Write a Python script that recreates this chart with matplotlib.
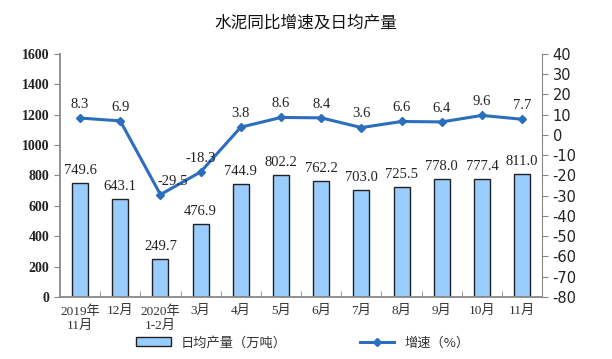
import numpy as np
import matplotlib.pyplot as plt
from matplotlib.lines import Line2D
from matplotlib.patches import Patch

plt.rcParams['font.family'] = ['Liberation Serif', 'Noto Sans CJK SC']
plt.rcParams['axes.unicode_minus'] = False

# data
months = ["2019年\n11月", "12月", "2020年\n1-2月", "3月", "4月", "5月",
          "6月", "7月", "8月", "9月", "10月", "11月"]
output = [749.6, 643.1, 249.7, 476.9, 744.9, 802.2, 762.2, 703.0, 725.5, 778.0, 777.4, 811.0]
growth = [8.3, 6.9, -29.5, -18.3, 3.8, 8.6, 8.4, 3.6, 6.6, 6.4, 9.6, 7.7]

bar_color = "#99ccff"
line_color = "#2a6ebd"
cjk = ['Noto Sans CJK SC', 'DejaVu Sans']

fig = plt.figure(figsize=(6.12, 3.59), dpi=100)
ax = fig.add_axes([0.098, 0.173, 0.788, 0.677])
x = np.arange(len(months))

ax.bar(x, output, width=0.4, color=bar_color, edgecolor="#222222", linewidth=1.0, zorder=2)
for xi, v in zip(x, output):
    ax.text(xi, v + 40, f"{v:.1f}", ha="center", va="bottom", fontsize=10.5, color="#222222")

ax.set_xlim(-0.5, len(months) - 0.5)
ax.set_ylim(0, 1600)
ax.set_yticks(np.arange(0, 1601, 200))
ax.set_xticks(x)
ax.set_xticklabels(months, fontsize=9.5, color="#333333")
ax.set_xticks(np.arange(0.5, len(months) - 0.5, 1), minor=True)
ax.tick_params(axis="x", which="major", length=0, pad=6)
ax.tick_params(axis="x", which="minor", length=4, direction="in", color="#888888")
ax.tick_params(axis="y", labelsize=10, length=4, color="#888888", labelcolor="#222222")
for lbl in ax.get_yticklabels():
    lbl.set_fontweight("bold")
ax.spines["top"].set_visible(False)
ax.spines["right"].set_visible(False)
ax.spines["left"].set_color("#888888")
ax.spines["bottom"].set_color("#888888")
ax.spines["left"].set_linewidth(1.3)
ax.spines["bottom"].set_linewidth(1.3)

ax2 = ax.twinx()
ax2.plot(x, growth, color=line_color, linewidth=2.2, marker="D", markersize=4, zorder=3)
for xi, v in zip(x, growth):
    # -29.5 sits a little to the right in the original
    dx = 0.3 if v < -25 else 0
    ax2.text(xi + dx, v + 3.5, f"{v}", ha="center", va="bottom", fontsize=10.5, color="#222222")
ax2.set_ylim(-80, 40)
ax2.set_yticks(np.arange(-80, 41, 10))
ax2.tick_params(axis="y", labelsize=10.5, length=4, color="#888888", labelcolor="#222222")
for lbl in ax2.get_yticklabels():
    lbl.set_fontfamily("DejaVu Sans")
ax2.spines["top"].set_visible(False)
ax2.spines["left"].set_visible(False)
ax2.spines["bottom"].set_visible(False)
ax2.spines["right"].set_color("#888888")

fig.text(0.5, 0.935, "水泥同比增速及日均产量", ha="center", va="center",
         fontsize=12, family=cjk, color="#111111")

handles = [Patch(facecolor=bar_color, edgecolor="#222222", linewidth=1.0),
           Line2D([0], [0], color=line_color, linewidth=2.2, marker="D", markersize=4)]
leg = fig.legend(handles, ["日均产量（万吨）", "增速（%）"], loc="center",
                 bbox_to_anchor=(0.495, 0.045), ncol=2, frameon=False,
                 prop={'family': cjk, 'size': 9.5}, columnspacing=5.5, handlelength=2.6)
for t in leg.get_texts():
    t.set_color("#333333")

fig.savefig("out.png", dpi=100)
